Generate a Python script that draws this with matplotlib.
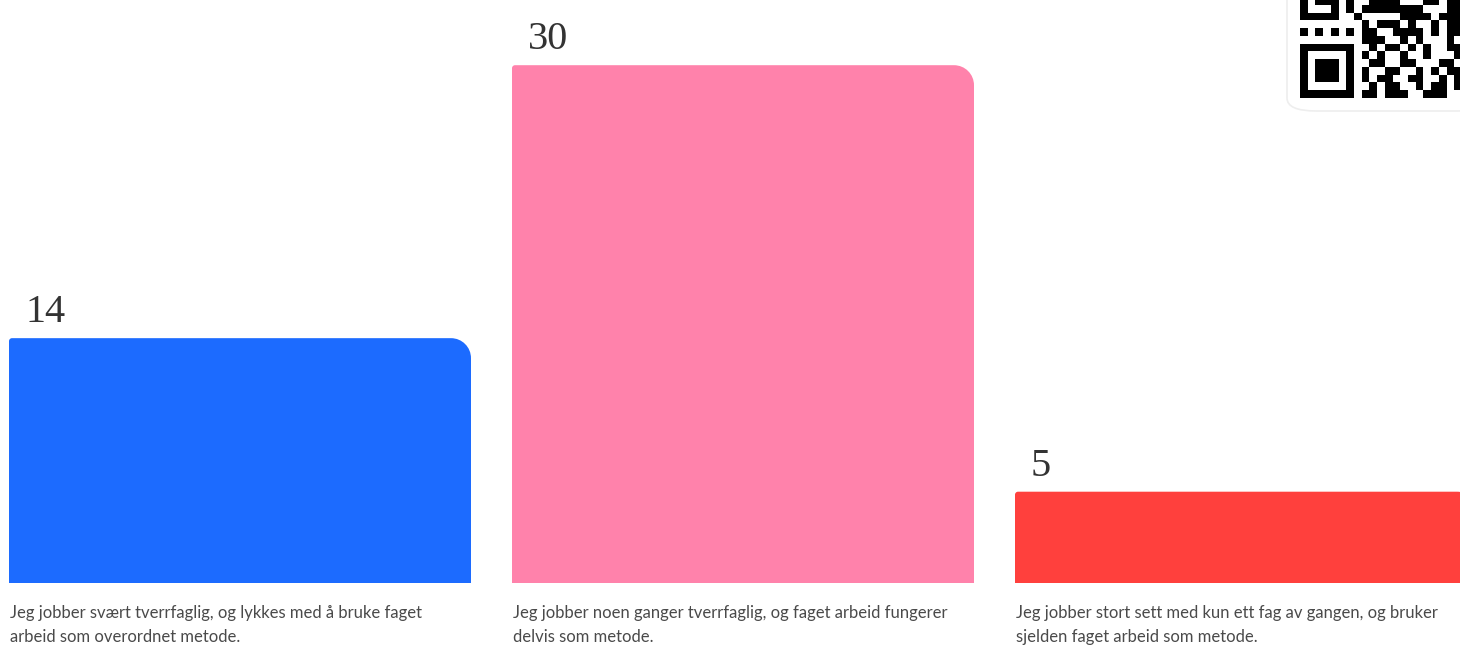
import matplotlib
matplotlib.use("Agg")
import matplotlib.pyplot as plt
import numpy as np
from matplotlib.path import Path
from matplotlib.patches import PathPatch, FancyBboxPatch

categories = [
    "Jeg jobber svært tverrfaglig, og lykkes med å bruke faget\narbeid som overordnet metode.",
    "Jeg jobber noen ganger tverrfaglig, og faget arbeid fungerer\ndelvis som metode.",
    "Jeg jobber stort sett med kun ett fag av gangen, og bruker\nsjelden faget arbeid som metode.",
]
values = [14, 30, 5]
colors = ["#1C6BFF", "#FF82AB", "#FF403D"]

W, H, DPI = 1460, 648, 100
fig = plt.figure(figsize=(W / DPI, H / DPI), dpi=DPI)
fig.patch.set_facecolor("white")

px_unit_x = 503.0
px_unit_y = 17.06
bottom_px = 71          # zero line (pixels from bottom)
pad = 6 / px_unit_y     # bars extend a little below zero
ax = fig.add_axes([0, bottom_px / H, 1, (H - bottom_px) / H])
ax.set_xlim(-240 / px_unit_x, (W - 240) / px_unit_x)
ax.set_ylim(0, (H - bottom_px) / px_unit_y)
ax.axis("off")

x = np.arange(len(values))
bars = ax.bar(x, np.array(values) + pad, bottom=-pad,
              width=462 / px_unit_x, color=colors)


def rounded_path(x0, y0, w, h, rtr, rtl):
    rx, ry = rtr / px_unit_x, rtr / px_unit_y
    sx, sy = rtl / px_unit_x, rtl / px_unit_y
    k = 0.5523
    x1, y1 = x0 + w, y0 + h
    verts = [
        (x0, y0), (x1, y0), (x1, y1 - ry),
        (x1, y1 - ry + k * ry), (x1 - rx + k * rx, y1), (x1 - rx, y1),
        (x0 + sx, y1),
        (x0 + sx - k * sx, y1), (x0, y1 - sy + k * sy), (x0, y1 - sy),
        (x0, y0), (x0, y0),
    ]
    codes = [Path.MOVETO, Path.LINETO, Path.LINETO,
             Path.CURVE4, Path.CURVE4, Path.CURVE4,
             Path.LINETO,
             Path.CURVE4, Path.CURVE4, Path.CURVE4,
             Path.LINETO, Path.CLOSEPOLY]
    return Path(verts, codes)


for rect, c, v, lab in zip(bars, colors, values, categories):
    rect.set_visible(False)
    x0, w, h, y0 = rect.get_x(), rect.get_width(), rect.get_height(), rect.get_y()
    ax.add_patch(PathPatch(rounded_path(x0, y0, w, h, 20, 3), facecolor=c,
                           edgecolor="none", clip_on=False))
    ax.text(x0 + 16 / px_unit_x, v + 16 / px_unit_y, f"{v}", ha="left",
            va="baseline", fontsize=29, color="#333333",
            family="Liberation Serif")
    ax.text(x0 + 1 / px_unit_x, -28 / px_unit_y, lab, ha="left", va="top",
            fontsize=12, color="#4a4a4a", family="Lato", linespacing=1.6,
            clip_on=False)

# decorative QR card at top right
card = FancyBboxPatch((1287 / W, (H - 111) / H), 200 / W, 140 / H,
                      boxstyle="round,pad=0,rounding_size=0.02",
                      transform=fig.transFigure, facecolor="white",
                      edgecolor="#eeeeee", linewidth=1.2, zorder=5)
fig.patches.append(card)
qr_rows = [
    "101110100111100011011",
    "100010101111111100011",
    "111110010000011110111",
    "000000001011101001011",
    "101010101100111101011",
    "000000001110010100010",
    "111111100101101010011",
    "100000101010010010001",
    "101110100110011000110",
    "101110101001100101011",
    "101110101011001100101",
    "100000100101100101101",
    "111111101101110011100",
]
qr = np.array([[int(ch) for ch in r] for r in qr_rows])
mod = 7.7
qax = fig.add_axes([1300 / W, (H - 98) / H, qr.shape[1] * mod / W,
                    qr.shape[0] * mod / H], zorder=6)
qax.imshow(qr, cmap="gray_r", interpolation="nearest", aspect="auto")
qax.axis("off")

fig.savefig("out.png", dpi=DPI)
